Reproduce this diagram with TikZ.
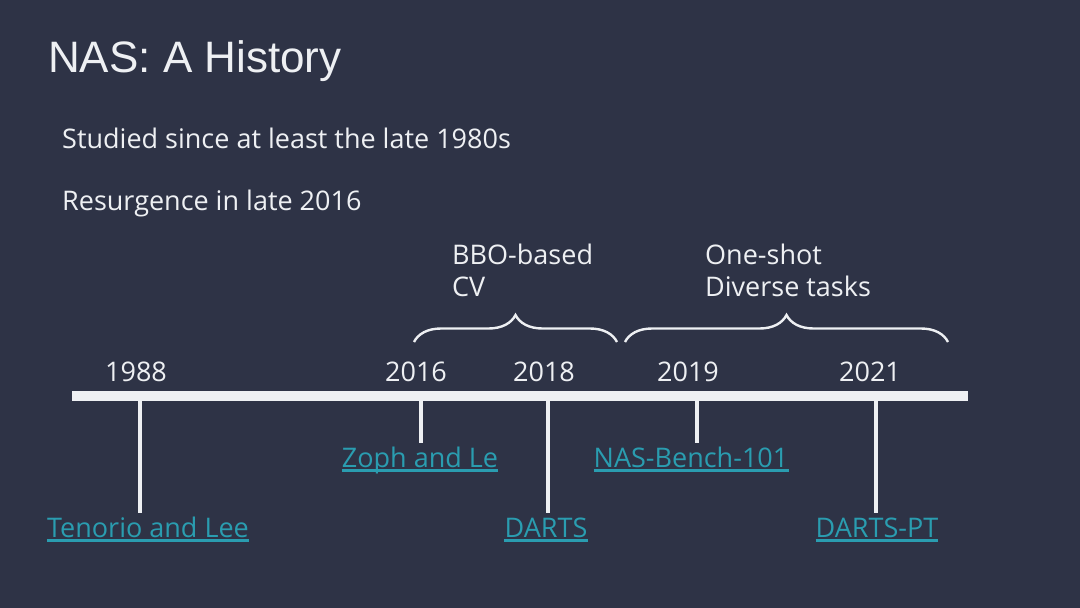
\documentclass[tikz,border=0pt]{standalone}
\usepackage{fontspec}
\setmainfont{Open Sans}
\newfontfamily\titlefont{Liberation Sans}
\usetikzlibrary{decorations.pathreplacing}
\definecolor{bgc}{HTML}{2E3346}
\definecolor{fgc}{HTML}{EEF0F3}
\definecolor{linkc}{HTML}{2A9DB0}
\begin{document}
\begin{tikzpicture}[x=1pt,y=-1pt,
  txt/.style={anchor=base west,inner sep=0pt,text=fgc,font=\fontsize{27}{31}\selectfont},
  yr/.style={anchor=base,inner sep=0pt,text=fgc,font=\fontsize{27}{31}\selectfont},
  lnk/.style={anchor=base,inner sep=0pt,text=linkc,font=\fontsize{27}{31}\selectfont},
  uline/.style={draw=linkc,line width=2.2pt},
  tick/.style={draw=fgc,line width=3.5pt},
  bar/.style={draw=fgc,line width=10pt},
  brc/.style={draw=fgc,line width=2.4pt,decorate,decoration={brace,amplitude=27pt,aspect=0.5}}]
\fill[bgc] (0,0) rectangle (1080,608);
\useasboundingbox (0,0) rectangle (1080,608);
% title and bullets
\node[anchor=base west,inner sep=0pt,text=fgc,font=\titlefont\fontsize{44}{50}\selectfont] (title) at (48,72) {NAS: A History};
\node[txt] (l1) at (62,148) {Studied since at least the late 1980s};
\node[txt] (l2) at (62,210) {Resurgence in late 2016};
\node[txt] (bbo) at (452,264) {BBO-based};
\node[txt] (cv) at (452,296) {CV};
\node[txt] (one) at (705,264) {One-shot};
\node[txt] (div) at (705,296) {Diverse tasks};
% braces
\coordinate (b1l) at (414,342);
\coordinate (b1r) at (617,342);
\coordinate (b2l) at (625,342);
\coordinate (b2r) at (948,342);
\draw[brc] (b1l) -- (b1r);
\draw[brc] (b2l) -- (b2r);
% years
\node[yr] (y1988) at (136,381) {1988};
\node[yr] (y2016) at (416,381) {2016};
\node[yr] (y2018) at (544,381) {2018};
\node[yr] (y2019) at (688,381) {2019};
\node[yr] (y2021) at (870,381) {2021};
% bar
\coordinate (barL) at (72,396);
\coordinate (barR) at (968,396);
\draw[bar] (barL) -- (barR);
% tick coordinates
\coordinate (t1) at (140,401); \coordinate (e1) at (140,513);
\coordinate (t2) at (421,401); \coordinate (e2) at (421,443);
\coordinate (t3) at (548,401); \coordinate (e3) at (548,513);
\coordinate (t4) at (697,401); \coordinate (e4) at (697,443);
\coordinate (t5) at (876,401); \coordinate (e5) at (876,513);
\draw[tick] (t1) -- (e1);
\draw[tick] (t2) -- (e2);
\draw[tick] (t3) -- (e3);
\draw[tick] (t4) -- (e4);
\draw[tick] (t5) -- (e5);
% links
\node[lnk] (ten) at (148,537) {Tenorio and Lee};
\node[lnk] (zoph) at (420,467) {Zoph and Le};
\node[lnk] (darts) at (546,537) {DARTS};
\node[lnk] (nasb) at (691,467) {NAS-Bench-101};
\node[lnk] (dpt) at (877,537) {DARTS-PT};
\foreach \n in {ten,zoph,darts,nasb,dpt}{
  \draw[uline] ([yshift=-3.5pt]\n.base west) -- ([yshift=-3.5pt]\n.base east);
}
\end{tikzpicture}
\end{document}
